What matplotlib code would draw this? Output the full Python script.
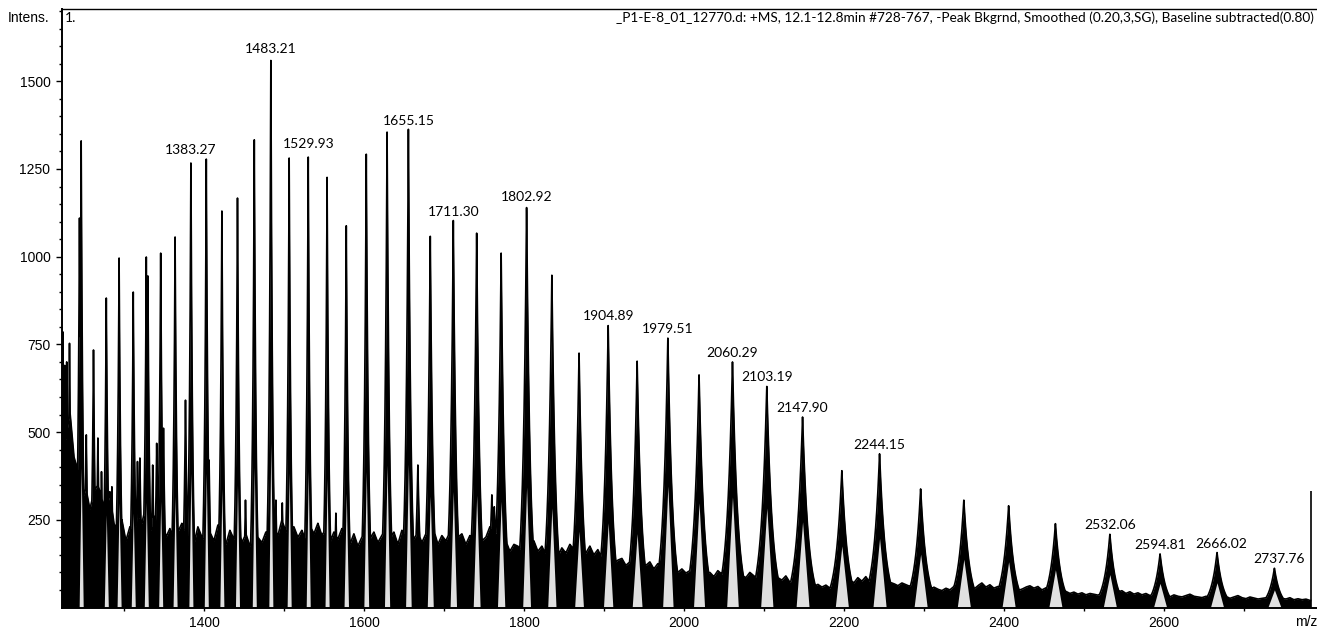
import matplotlib
matplotlib.use('Agg')
import matplotlib.pyplot as plt
from matplotlib.ticker import FixedLocator, MultipleLocator
import numpy as np

# main series: apex m/z and intensity
peak_mz = [1246.1, 1277.5, 1293.5, 1311.2, 1327.5, 1345.5, 1363.5, 1383.27, 1402.5, 1422.0,
           1441.5, 1462.5, 1483.21, 1506.1, 1529.93, 1553.5, 1577.5, 1602.5, 1628.5, 1655.15,
           1682.5, 1711.30, 1740.5, 1771.1, 1802.92, 1834.5, 1868.5, 1904.89, 1941.1, 1979.51,
           2018.5, 2060.29, 2103.19, 2147.90, 2197.0, 2244.15, 2295.5, 2349.5, 2405.5, 2464.0,
           2532.06, 2594.81, 2666.02, 2737.76]
peak_int = [1330, 882, 996, 899, 999, 1010, 1056, 1278, 1278, 1130,
            1167, 1333, 1566, 1281, 1295, 1226, 1088, 1292, 1355, 1363,
            1058, 1103, 1067, 1010, 1145, 947, 725, 805, 702, 769,
            663, 701, 631, 543, 390, 438, 338, 306, 290, 239,
            209, 153, 157, 112]

# smaller spikes between the main peaks
minor_mz = [1223.0, 1225.5, 1228.0, 1231.5, 1244.0, 1252.5, 1261.5, 1267.0, 1271.5, 1284.5,
            1316.5, 1319.5, 1329.5, 1335.5, 1340.5, 1349.0, 1376.5, 1406.0, 1451.5, 1489.5,
            1497.5, 1550.5, 1564.5, 1667.0, 1759.5, 1762.5]
minor_int = [786, 690, 700, 753, 1110, 492, 734, 483, 387, 344,
             416, 426, 945, 406, 468, 511, 591, 420, 306, 306,
             298, 330, 269, 406, 321, 287]

# top of the background noise band, every 5 m/z from 1222 to 2782
noise_mz = np.arange(1222, 2783, 5)
noise_int = [520, 480, 560, 430, 390, 300, 340, 280, 330, 350,
             310, 260, 330, 240, 215, 250, 190, 230, 205, 260,
             240, 290, 210, 260, 235, 280, 200, 225, 180, 215,
             240, 195, 220, 180, 230, 200, 175, 215, 190, 235,
             205, 180, 220, 195, 240, 185, 210, 175, 225, 200,
             185, 215, 180, 230, 205, 250, 215, 195, 230, 200,
             220, 190, 235, 210, 240, 205, 225, 185, 215, 195,
             225, 190, 180, 210, 175, 200, 230, 195, 215, 185,
             205, 230, 195, 215, 180, 220, 200, 240, 195, 215,
             185, 210, 195, 220, 180, 205, 190, 215, 185, 200,
             210, 180, 205, 175, 215, 190, 200, 230, 205, 220,
             170, 190, 160, 180, 175, 155, 185, 165, 190, 160,
             175, 150, 185, 160, 145, 170, 155, 180, 165, 150,
             170, 155, 175, 150, 165, 140, 130, 145, 125, 135,
             140, 120, 130, 115, 135, 125, 120, 130, 110, 125,
             115, 120, 105, 115, 100, 110, 98, 105, 95, 100,
             108, 92, 100, 88, 105, 95, 85, 98, 90, 100,
             92, 85, 100, 90, 82, 95, 80, 88, 75, 85,
             78, 90, 72, 80, 70, 75, 65, 70, 60, 66,
             58, 64, 55, 62, 68, 60, 72, 80, 70, 85,
             75, 88, 70, 80, 72, 78, 65, 72, 68, 62,
             70, 65, 60, 68, 58, 62, 55, 50, 58, 52,
             48, 55, 50, 60, 52, 48, 55, 60, 52, 62,
             70, 58, 65, 55, 60, 52, 56, 50, 55, 48,
             52, 58, 62, 55, 60, 50, 56, 48, 52, 46,
             42, 46, 40, 44, 38, 42, 36, 40, 38, 35,
             40, 36, 42, 38, 44, 48, 40, 45, 38, 42,
             36, 40, 34, 38, 32, 36, 34, 30, 36, 32,
             30, 34, 38, 32, 30, 28, 32, 30, 26, 30,
             28, 32, 26, 30, 34, 28, 25, 30, 27, 24,
             26, 28, 24, 27, 22, 26, 24, 28, 22, 25,
             22, 24, 20]

# last point of the scan
end_mz = 2783
end_int = 333

label_mz = [1383.27, 1483.21, 1529.93, 1655.15, 1711.30, 1802.92, 1904.89, 1979.51,
            2060.29, 2103.19, 2147.90, 2244.15, 2532.06, 2594.81, 2666.02, 2737.76]

title = '_P1-E-8_01_12770.d: +MS, 12.1-12.8min #728-767, -Peak Bkgrnd, Smoothed (0.20,3,SG), Baseline subtracted(0.80)'

FILL = '#e0e0e0'
ANNOT_FONT = ['Lato', 'DejaVu Sans']
AXIS_FONT = ['Liberation Sans', 'DejaVu Sans']


def peak_width(mz):
  # peaks broaden towards high m/z
  return min(2.3 + 0.0085 * max(mz - 1550, 0), 7.5)


def build_trace():
  # one continuous trace: noise band with the peak profiles on top of it
  grid = np.arange(noise_mz[0] - 0.5, end_mz, 0.05)
  trace = np.interp(grid, noise_mz, noise_int)
  for mz, h in zip(minor_mz + peak_mz, minor_int + peak_int):
    w = peak_width(mz)
    trace = np.maximum(trace, h * np.exp(-np.abs(grid - mz) / w))
  return grid, trace


def plot():
  fig = plt.figure(figsize=(13.17, 6.29), dpi=100)
  W, H = 1317.0, 629.0
  ax = fig.add_axes([61.5 / W, 21.5 / H, 1 - 61.5 / W, (607.5 - 9) / H])

  grid, trace = build_trace()
  ax.fill_between(grid, 0, trace, color='black', lw=0)
  ax.plot(grid, trace, color='black', lw=1.2)

  # light fill under the centre of each main peak
  for mz, h in zip(peak_mz, peak_int):
    b = 1.1 * peak_width(mz)
    frac = 0.3 if mz < 1950 else 0.45
    ax.fill_between([mz - b, mz, mz + b], 0, [0, frac * h, 0], color=FILL, lw=0)

  ax.vlines(end_mz, 0, end_int, color='black', lw=1.2)

  shift = {2666.02: 3, 2737.76: 3}
  for mz in label_mz:
    h = peak_int[peak_mz.index(mz)]
    ax.annotate('%.2f' % mz, (mz, h), xytext=(shift.get(mz, 0), 2),
                textcoords='offset points', ha='center', va='bottom',
                fontsize=10, family=ANNOT_FONT)

  ax.set_xlim(1221.5, 2791)
  ax.set_ylim(0, 1706)
  ax.xaxis.set_major_locator(MultipleLocator(200))
  ax.xaxis.set_minor_locator(MultipleLocator(100))
  ax.yaxis.set_major_locator(FixedLocator([250, 500, 750, 1000, 1250, 1500]))
  ax.yaxis.set_minor_locator(FixedLocator(np.arange(50, 1701, 50)))
  ax.tick_params(axis='x', which='both', direction='out', length=2.5, width=1, pad=3.5)
  ax.tick_params(axis='y', which='major', direction='out', length=4, width=1, pad=4)
  ax.tick_params(axis='y', which='minor', direction='out', length=2.2, width=1)
  for lab in ax.get_xticklabels() + ax.get_yticklabels():
    lab.set_family(AXIS_FONT)
    lab.set_fontsize(10)

  ax.spines['right'].set_visible(False)
  ax.spines['top'].set_linewidth(1.0)
  ax.spines['left'].set_linewidth(1.4)
  ax.spines['bottom'].set_linewidth(1.4)

  fig.text(8 / W, 1 - 18 / H, 'Intens.', ha='left', va='center', fontsize=10, family=AXIS_FONT)
  fig.text(65 / W, 1 - 18 / H, '1.', ha='left', va='center', fontsize=10, family=ANNOT_FONT)
  fig.text(1314 / W, 1 - 18 / H, title, ha='right', va='center', fontsize=9.8, family=ANNOT_FONT)
  fig.text(1306 / W, 1 - 622 / H, 'm/z', ha='center', va='center', fontsize=10, family=AXIS_FONT)

  fig.savefig('out.png', dpi=100)


if __name__ == '__main__':
  plot()
